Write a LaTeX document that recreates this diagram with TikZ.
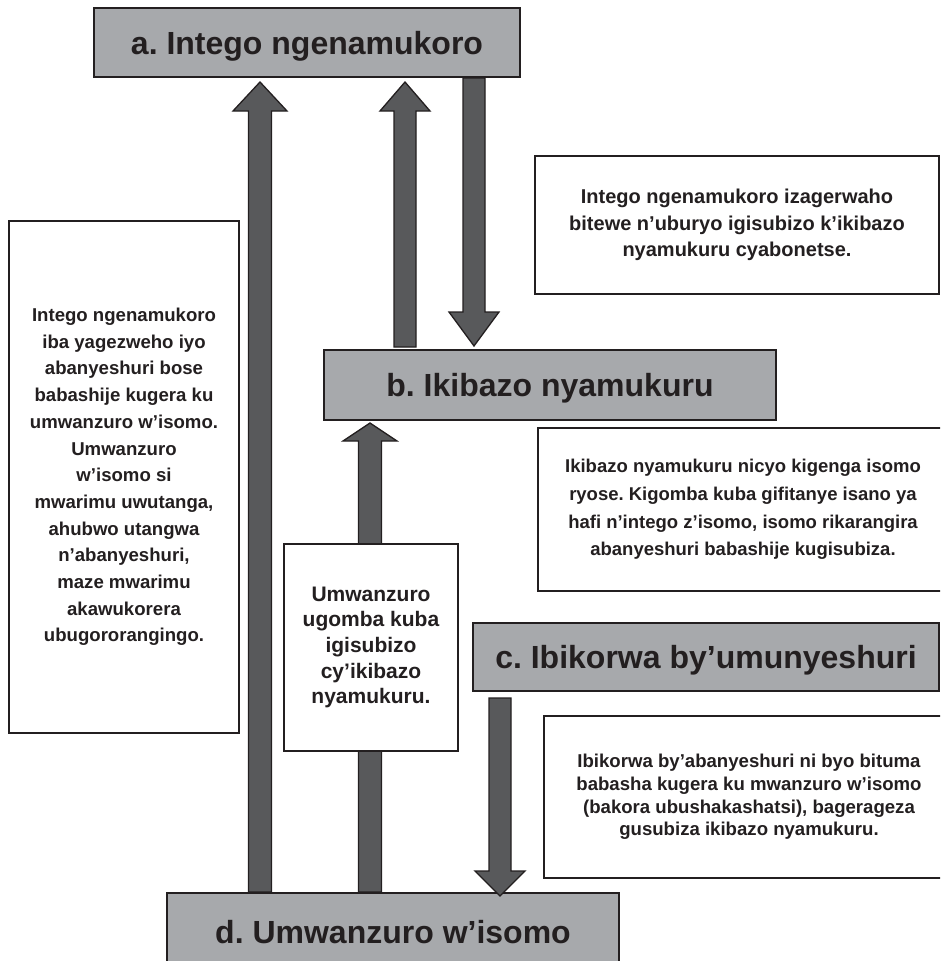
\documentclass[tikz,border=0pt]{standalone}
\usepackage{fontspec}
\setmainfont{Liberation Sans}
\usetikzlibrary{calc}
\definecolor{boxgray}{HTML}{A7A9AC}
\definecolor{arrgray}{HTML}{58595B}
\definecolor{ink}{HTML}{231F20}
\pgfdeclarelayer{bg}
\pgfsetlayers{bg,main}
\frenchspacing
% #1 tail, #2 tip, #3 shaft half width, #4 head half width, #5 head length
\newcommand\blockarr[5]{%
  \coordinate (Hb) at ($(#2)!#5pt!(#1)$);
  \draw[arrowshape] ($(#1)+(-#3,0)$) -- ($(Hb)+(-#3,0)$) -- ($(Hb)+(-#4,0)$) -- (#2)
    -- ($(Hb)+(#4,0)$) -- ($(Hb)+(#3,0)$) -- ($(#1)+(#3,0)$) -- cycle;}
\tikzset{
  titlebox/.style={draw=ink, line width=2pt, fill=boxgray, text=ink, anchor=north west,
    inner sep=0pt, font=\fontsize{32}{38}\selectfont\bfseries, text height=23pt, text depth=0pt},
  notebox/.style={draw=ink, line width=2pt, fill=white, text=ink, anchor=north west,
    inner sep=0pt, align=center},
  arrowshape/.style={fill=arrgray, draw=ink, line width=1.3pt, line join=miter}
}
\begin{document}
\begin{tikzpicture}[x=1pt,y=-1pt]
\useasboundingbox (0,0) rectangle (940,961);
\clip (0,0) rectangle (940,961);
% main boxes
\node[titlebox, minimum width=426pt, minimum height=69pt] (a) at (93,7) {a. Intego ngenamukoro};
\node[titlebox, minimum width=452pt, minimum height=70pt] (b) at (323,349) {b. Ikibazo nyamukuru};
\node[titlebox, minimum width=466pt, minimum height=68pt] (c) at (472,622) {c. Ibikorwa by’umunyeshuri};
\node[titlebox, minimum width=452pt, minimum height=78pt] (d) at (166,892) {d. Umwanzuro w’isomo};
% note boxes
\node[notebox, minimum width=404pt, minimum height=138pt, font=\fontsize{20}{26.7}\selectfont\bfseries] (t1) at (534,155)
  {Intego ngenamukoro izagerwaho\\bitewe n’uburyo igisubizo k’ikibazo\\nyamukuru cyabonetse.};
\node[notebox, minimum width=410pt, minimum height=163pt, font=\fontsize{18.5}{27.6}\selectfont\bfseries] (t2) at (537,427)
  {Ikibazo nyamukuru nicyo kigenga isomo\\ryose. Kigomba kuba gifitanye isano ya\\hafi n’intego z’isomo, isomo rikarangira\\abanyeshuri babashije kugisubiza.};
\node[notebox, minimum width=230pt, minimum height=512pt, font=\fontsize{18.6}{26.7}\selectfont\bfseries] (tL) at (8,220)
  {Intego ngenamukoro\\iba yagezweho iyo\\abanyeshuri bose\\babashije kugera ku\\umwanzuro w’isomo.\\Umwanzuro\\w’isomo si\\mwarimu uwutanga,\\ahubwo utangwa\\n’abanyeshuri,\\maze mwarimu\\akawukorera\\ubugororangingo.};
\node[notebox, minimum width=174pt, minimum height=207pt, font=\fontsize{21}{25.7}\selectfont\bfseries] (t3) at (283,543)
  {Umwanzuro\\ugomba kuba\\igisubizo\\cy’ikibazo\\nyamukuru.};
\node[notebox, minimum width=410pt, minimum height=162pt, font=\fontsize{18.6}{22.7}\selectfont\bfseries] (t4) at (543,715)
  {Ibikorwa by’abanyeshuri ni byo bituma\\babasha kugera ku mwanzuro w’isomo\\(bakora ubushakashatsi), bagerageza\\gusubiza ikibazo nyamukuru.};
% arrow columns
\coordinate (xa1) at (260,0);
\coordinate (xa2) at (405,0);
\coordinate (xa3) at (474,0);
\coordinate (xb) at (370,0);
\coordinate (xc) at (500,0);
% arrow ends
\path (d.north -| xa1) coordinate (da0);
\path (a.south -| xa1) ++(0,4) coordinate (da1);
\path (b.north -| xa2) ++(0,-2) coordinate (ba0);
\path (a.south -| xa2) ++(0,4) coordinate (ba1);
\path (a.south -| xa3) coordinate (ab0);
\path (b.north -| xa3) ++(0,-3) coordinate (ab1);
\path (d.north -| xb) coordinate (db0);
\path (b.south -| xb) ++(0,2) coordinate (db1);
\path (c.south -| xc) ++(0,6) coordinate (cd0);
\path (d.north -| xc) ++(0,4) coordinate (cd1);
\begin{pgfonlayer}{bg}
\blockarr{da0}{da1}{11.5}{27}{29}
\blockarr{ba0}{ba1}{11}{25}{29}
\blockarr{ab0}{ab1}{11}{25}{34}
\blockarr{db0}{db1}{11.5}{27}{18}
\end{pgfonlayer}
\blockarr{cd0}{cd1}{11}{25}{25}
\end{tikzpicture}
\end{document}
